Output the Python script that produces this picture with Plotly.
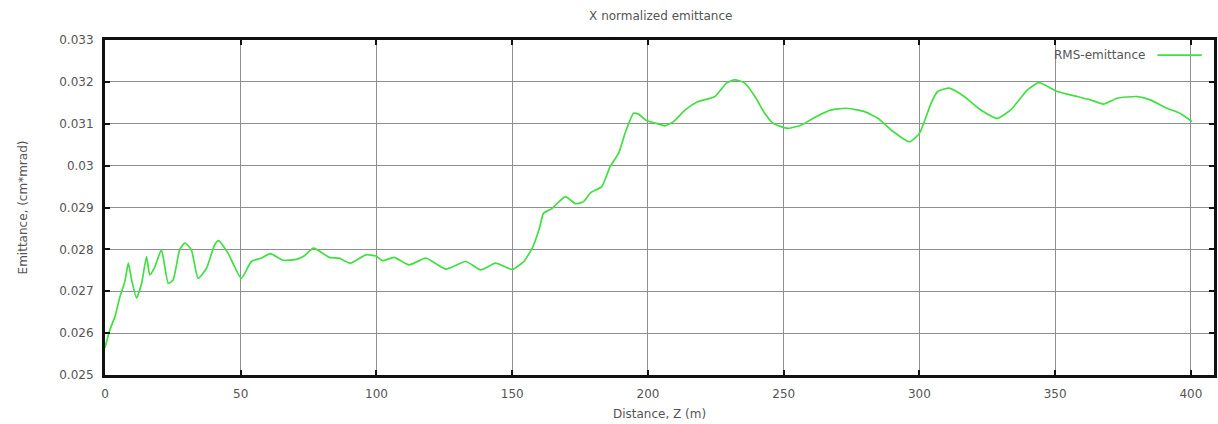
import plotly.graph_objects as go

# Distance along Z (m)
z = [0, 1.8, 3.7, 5.5, 7.3, 8.6, 9.8, 11.6, 13.5, 15.3,
     16.5, 18.4, 20.8, 23.3, 25.1, 27.5, 29.4, 31.8, 34.3, 37.4,
     40.4, 41.8, 45.3, 50.2, 53.9, 57.5, 60.9, 65.5, 70.4, 73.5,
     76.8, 82.6, 86.3, 90.3, 96.1, 99.8, 102.2, 106.5, 112, 118.2,
     125.5, 132.9, 138.4, 143.9, 150, 154.3, 157.5, 160, 161.5, 164.7,
     169.6, 173.3, 176.3, 178.8, 183, 186.1, 189.2, 191.6, 194.7, 196.5,
     199.6, 203.2, 206.3, 209.4, 213.7, 218.5, 224.7, 228.9, 232, 235.7,
     239.4, 243, 246.1, 251.6, 256.5, 261.4, 267.5, 273, 279.8, 284.7,
     289.6, 296.3, 300, 304.3, 306.7, 311, 316.5, 322.6, 328.7, 333.6,
     339.8, 344, 350.8, 358.1, 363, 367.9, 372.8, 380.2, 385, 391.2,
     396, 400.4]

# RMS emittance (cm*mrad)
rms_emittance = [0.02565, 0.02608, 0.02640, 0.02687, 0.02723, 0.02767, 0.02727, 0.02684, 0.02719, 0.02783,
                 0.02739, 0.02759, 0.02799, 0.02719, 0.02727, 0.02799, 0.02815, 0.02799, 0.02731, 0.02755,
                 0.02811, 0.02821, 0.02791, 0.02731, 0.02771, 0.02779, 0.02790, 0.02774, 0.02776, 0.02785,
                 0.02803, 0.02781, 0.02779, 0.02767, 0.02787, 0.02784, 0.02773, 0.02781, 0.02763, 0.02779,
                 0.02753, 0.02771, 0.02751, 0.02767, 0.02752, 0.02771, 0.02805, 0.02850, 0.02886, 0.02898,
                 0.02926, 0.02909, 0.02914, 0.02935, 0.02950, 0.02998, 0.03030, 0.03078, 0.03125, 0.03123,
                 0.03107, 0.03101, 0.03095, 0.03105, 0.03133, 0.03153, 0.03165, 0.03197, 0.03205, 0.03197,
                 0.03165, 0.03125, 0.03101, 0.03089, 0.03097, 0.03115, 0.03133, 0.03137, 0.03129, 0.03113,
                 0.03085, 0.03057, 0.03077, 0.03149, 0.03177, 0.03185, 0.03165, 0.03133, 0.03113, 0.03133,
                 0.03181, 0.03198, 0.03177, 0.03165, 0.03157, 0.03147, 0.03161, 0.03165, 0.03157, 0.03137,
                 0.03125, 0.03105]

x_ticks = [0, 50, 100, 150, 200, 250, 300, 350, 400]
x_tick_labels = ["0", "50", "100", "150", "200", "250", "300", "350", "400"]
y_ticks = [0.025, 0.026, 0.027, 0.028, 0.029, 0.030, 0.031, 0.032, 0.033]
y_tick_labels = ["0.025", "0.026", "0.027", "0.028", "0.029", "0.03", "0.031", "0.032", "0.033"]

series_name = "RMS-emittance"
line_color = "#3fe03f"
font_family = "DejaVu Sans, Verdana, sans-serif"
font_size = 12
text_color = "#555555"

fig = go.Figure()
fig.add_trace(go.Scatter(
    x=z, y=rms_emittance, mode="lines", name=series_name,
    line=dict(color=line_color, width=1.7, shape="spline", smoothing=0.5),
    showlegend=False,
))

axis_common = dict(
    showline=True, linecolor="#111111", linewidth=3, mirror="ticks",
    ticks="inside", ticklen=5, tickwidth=2, tickcolor="#111111",
    showgrid=True, gridcolor="#8f8f8f", gridwidth=1,
    zeroline=False,
    tickfont=dict(family=font_family, size=font_size, color=text_color),
)

fig.update_xaxes(
    range=[0, 408.5], tickvals=x_ticks, ticktext=x_tick_labels,
    ticklabelstandoff=6,
    title=dict(text="Distance, Z (m)", font=dict(family=font_family, size=font_size, color=text_color), standoff=10),
    **axis_common,
)
fig.update_yaxes(
    range=[0.025, 0.033], tickvals=y_ticks, ticktext=y_tick_labels,
    ticklabelstandoff=6,
    title=dict(text="Emittance, (cm*mrad)", font=dict(family=font_family, size=font_size, color=text_color), standoff=30),
    **axis_common,
)

# Legend drawn gnuplot-style: text then line sample
fig.add_annotation(
    xref="paper", yref="paper", x=0.9397, y=0.955, xanchor="right", yanchor="middle",
    text=series_name, showarrow=False,
    font=dict(family=font_family, size=font_size, color=text_color),
)
fig.add_shape(
    type="line", xref="paper", yref="paper", x0=0.949, x1=0.989, y0=0.955, y1=0.955,
    line=dict(color=line_color, width=1.7),
)

fig.update_layout(
    width=1218, height=424,
    margin=dict(l=105, r=1, t=40, b=49),
    paper_bgcolor="white", plot_bgcolor="white",
    title=dict(text="X normalized emittance", x=0.5425, xanchor="center", y=0.962, yanchor="middle",
               font=dict(family=font_family, size=font_size, color=text_color)),
)

fig.write_html("out.html")
